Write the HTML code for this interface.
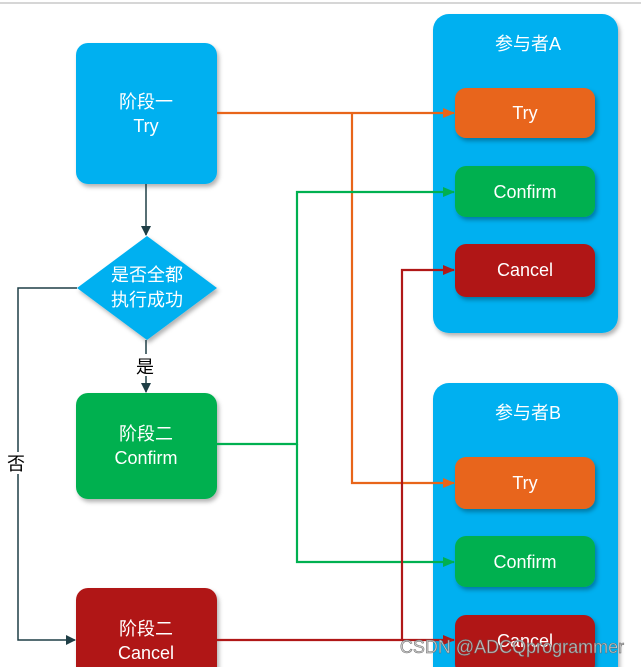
<!DOCTYPE html>
<html><head><meta charset="utf-8"><style>
html,body{margin:0;padding:0;background:#fff;width:641px;height:667px;overflow:hidden}
text{font-family:"Liberation Sans","Noto Sans CJK SC",sans-serif;fill:#fff;text-anchor:middle}
</style></head><body>
<svg width="641" height="667" viewBox="0 0 641 667" xmlns="http://www.w3.org/2000/svg">
<defs>
<filter id="sh" x="-10%" y="-10%" width="130%" height="130%"><feDropShadow dx="2" dy="3" stdDeviation="2" flood-color="#000" flood-opacity="0.3"/></filter>
<marker id="ao" markerWidth="12" markerHeight="10" refX="11" refY="5" orient="auto" markerUnits="userSpaceOnUse"><path d="M0,0 L12,5 L0,10z" fill="#e8651a"/></marker>
<marker id="ag" markerWidth="12" markerHeight="10" refX="11" refY="5" orient="auto" markerUnits="userSpaceOnUse"><path d="M0,0 L12,5 L0,10z" fill="#00b050"/></marker>
<marker id="ar" markerWidth="12" markerHeight="10" refX="11" refY="5" orient="auto" markerUnits="userSpaceOnUse"><path d="M0,0 L12,5 L0,10z" fill="#b01818"/></marker>
<marker id="ad" markerWidth="10" markerHeight="10" refX="9" refY="5" orient="auto" markerUnits="userSpaceOnUse"><path d="M0,0 L10,5 L0,10z" fill="#1f3f46"/></marker>
</defs>
<line x1="0" y1="3" x2="641" y2="3" stroke="#c8c8c8" stroke-width="1.5"/>

<rect x="433" y="14" width="185" height="319" rx="16" fill="#00b0f0" filter="url(#sh)"/>
<rect x="433" y="383" width="185" height="300" rx="16" fill="#00b0f0" filter="url(#sh)"/>
<text x="528" y="50" font-size="18">参与者A</text>
<text x="528" y="419" font-size="18">参与者B</text>

<rect x="76" y="43" width="141" height="141" rx="12" fill="#00b0f0" filter="url(#sh)"/>
<text x="146" y="108" font-size="18">阶段一</text><text x="146" y="132" font-size="18">Try</text>
<polygon points="147,236 217,288 147,340 77,288" fill="#00b0f0" filter="url(#sh)"/>
<text x="147" y="281" font-size="18">是否全都</text><text x="147" y="306" font-size="18">执行成功</text>
<rect x="76" y="393" width="141" height="106" rx="12" fill="#00b050" filter="url(#sh)"/>
<text x="146" y="440" font-size="18">阶段二</text><text x="146" y="464" font-size="18">Confirm</text>
<rect x="76" y="588" width="141" height="100" rx="12" fill="#b01818" filter="url(#sh)"/>
<text x="146" y="635" font-size="18">阶段二</text><text x="146" y="659" font-size="18">Cancel</text>

<g fill="none" stroke="#1f3f46" stroke-width="1.5">
<line x1="146" y1="184" x2="146" y2="235" marker-end="url(#ad)"/>
<line x1="146" y1="340" x2="146" y2="392" marker-end="url(#ad)"/>
<path d="M77,288 H18 V640 H75" marker-end="url(#ad)"/>
</g>
<rect x="136" y="354" width="20" height="22" fill="#fff"/>
<text x="145" y="373" font-size="18" style="fill:#000">是</text>
<rect x="6" y="452" width="20" height="22" fill="#fff"/>
<text x="16" y="470" font-size="18" style="fill:#000">否</text>

<g fill="none" stroke-width="2.2">
<path d="M217,113 H454" stroke="#e8651a" marker-end="url(#ao)"/>
<path d="M352,113 V483 H454" stroke="#e8651a" marker-end="url(#ao)"/>
<path d="M217,444 H297 V192 H454" stroke="#00b050" marker-end="url(#ag)"/>
<path d="M297,444 V562 H454" stroke="#00b050" marker-end="url(#ag)"/>
<path d="M217,640 H454" stroke="#b01818" marker-end="url(#ar)"/>
<path d="M402,640 V270 H454" stroke="#b01818" marker-end="url(#ar)"/>
</g>

<rect x="455" y="88" width="140" height="50" rx="11" fill="#e8651a" filter="url(#sh)"/>
<text x="525" y="119" font-size="18">Try</text>
<rect x="455" y="166" width="140" height="51" rx="11" fill="#00b050" filter="url(#sh)"/>
<text x="525" y="198" font-size="18">Confirm</text>
<rect x="455" y="244" width="140" height="53" rx="11" fill="#b01818" filter="url(#sh)"/>
<text x="525" y="276" font-size="18">Cancel</text>
<rect x="455" y="457" width="140" height="52" rx="11" fill="#e8651a" filter="url(#sh)"/>
<text x="525" y="489" font-size="18">Try</text>
<rect x="455" y="536" width="140" height="51" rx="11" fill="#00b050" filter="url(#sh)"/>
<text x="525" y="568" font-size="18">Confirm</text>
<rect x="455" y="615" width="140" height="60" rx="11" fill="#b01818" filter="url(#sh)"/>
<text x="525" y="647" font-size="18">Cancel</text>

<text x="512" y="653" font-size="18" style="fill:#ccc;fill-opacity:0.9;stroke:#666;stroke-width:0.5">CSDN @ADCQprogrammer</text>
</svg>
</body></html>
